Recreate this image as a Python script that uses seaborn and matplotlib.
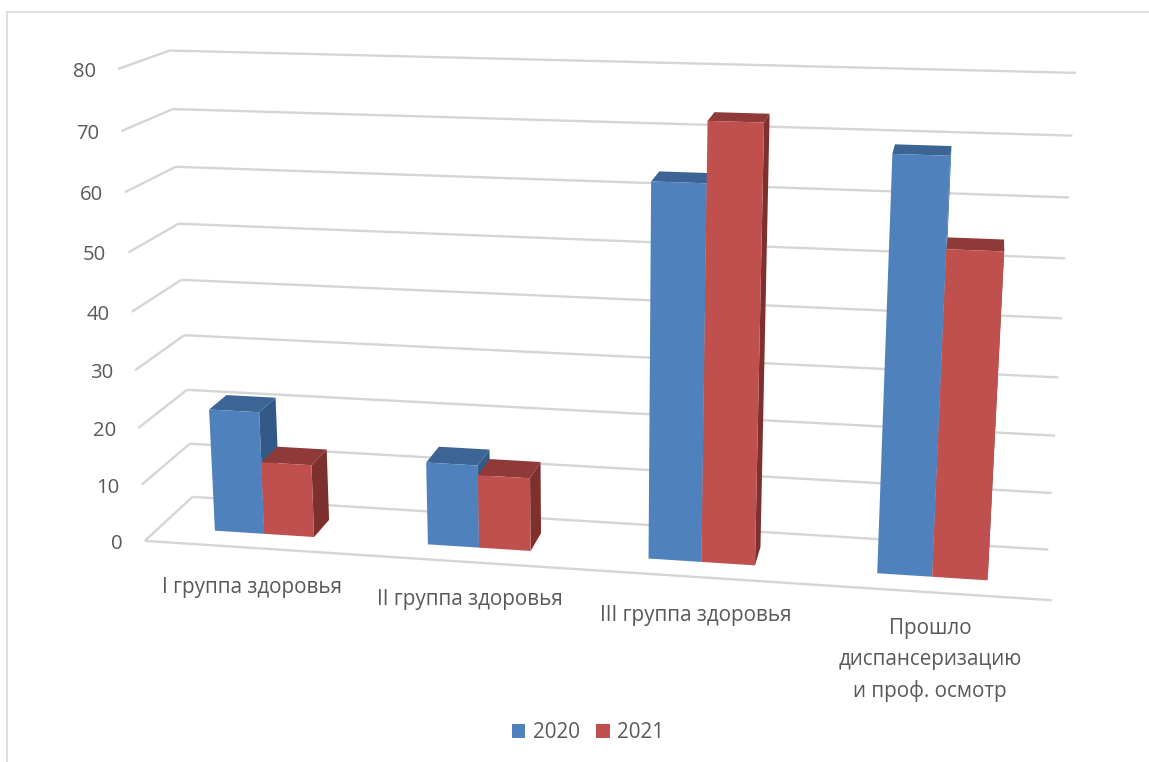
import numpy as np
import pandas as pd
import matplotlib
matplotlib.use("Agg")
import matplotlib.pyplot as plt
from matplotlib.transforms import Transform, Affine2D
from matplotlib.lines import Line2D
import seaborn as sns

categories = ["I группа здоровья", "II группа здоровья", "III группа здоровья",
              "Прошло\nдиспансеризацию\nи проф. осмотр"]
years = ["2020", "2021"]
values_2020 = [21.7, 14.5, 63.4, 69.0]
values_2021 = [12.85, 12.8, 73.3, 54.3]
y_ticks = [0, 10, 20, 30, 40, 50, 60, 70, 80]

W, H = 1149, 762
sns.set_theme(style="white")
plt.rcParams["font.family"] = ["Open Sans", "DejaVu Sans"]
TXT = "#595959"
FS = 14.9
GRID = "#d5d5d5"
FRONT = {"2020": "#4F81BD", "2021": "#C0504D"}
TOP = {"2020": "#3C6494", "2021": "#8F3A38"}
SIDE = {"2020": "#335A87", "2021": "#7E302E"}

# perspective camera: (category position, value, depth) -> picture pixels
XL, XR = -0.5, 3.5
calib = [((XL, 0, 0), (145, 541)), ((XL, 80, 0), (117, 70)), ((XL, 40, 0), (132, 311)),
         ((XL, 0, 1), (192, 497)), ((XL, 80, 1), (170, 50)), ((XL, 40, 1), (182, 280)),
         ((XR, 0, 0), (1052, 600)), ((XR, 0, 1), (1048, 550)), ((XR, 80, 1), (1076, 73)),
         ((XR, 40, 1), (1062, 318))]
A, b = [], []
for (x, y, z), (u, v) in calib:
    A.append([x, y, z, 1, 0, 0, 0, 0, -u * x, -u * y, -u * z]); b.append(u)
    A.append([0, 0, 0, 0, x, y, z, 1, -v * x, -v * y, -v * z]); b.append(v)
P = np.append(np.linalg.lstsq(np.array(A, float), np.array(b, float), rcond=None)[0], 1).reshape(3, 4)


def project(x, y, z):
    q = P @ np.vstack([x, y, z, np.ones_like(np.asarray(x, float))])
    return q[0] / q[2], q[1] / q[2]


class Plane(Transform):
    input_dims = output_dims = 2
    is_affine = False

    def __init__(self, z):
        super().__init__()
        self.z = z

    def transform_non_affine(self, xy):
        xy = np.asarray(xy, float)
        u, v = project(xy[:, 0], xy[:, 1], np.full(len(xy), self.z))
        return np.column_stack([u, v])


fig = plt.figure(figsize=(W / 100, H / 100), dpi=100, facecolor="white")
ax = fig.add_axes([0, 0, 1, 1])
pix = Affine2D().scale(1 / W, -1 / H).translate(0, 1) + fig.transFigure

df = pd.DataFrame({
    "cat": categories * 2,
    "year": [years[0]] * 4 + [years[1]] * 4,
    "val": values_2020 + values_2021,
})
sns.barplot(df, x="cat", y="val", hue="year", palette=FRONT, width=0.47, gap=0,
            saturation=1, linewidth=0, ax=ax, zorder=5)
ax.axis("off")

Z0, Z1 = 0.30, 0.68
for k, (yr, cont) in enumerate(zip(years, ax.containers)):
    for bar in cont:
        bar.set_transform(Plane(Z0) + pix)
        bar.set_clip_on(False)
        x0, x1, v = bar.get_x(), bar.get_x() + bar.get_width(), bar.get_height()
        tu, tv = project(np.array([x0, x1, x1, x0]), np.full(4, v), np.array([Z0, Z0, Z1, Z1]))
        su, sv = project(np.full(4, x1), np.array([0, v, v, 0]), np.array([Z0, Z0, Z1, Z1]))
        ax.fill(su, sv, color=SIDE[yr], lw=0, transform=pix, zorder=2 + k)
        ax.fill(tu, tv, color=TOP[yr], lw=0, transform=pix, zorder=2.5 + k)

gkw = dict(color=GRID, lw=1.7, solid_capstyle="butt", zorder=1, clip_on=False)
for t in y_ticks:
    ax.plot([XL, XR], [t, t], transform=Plane(1) + pix, **gkw)
    u, v = project(np.array([XL, XL]), np.array([t, t]), np.array([0.0, 1.0]))
    ax.plot(u, v, transform=pix, **gkw)
    ax.text(u[0] - 22, v[0] + 3, str(t), ha="right", va="center", color=TXT, fontsize=14.6,
            transform=pix)
ax.plot([XL, XR], [0, 0], transform=Plane(0) + pix, **gkw)

label_pos = [(252, 588), (470, 600), (696, 616), (930, 660)]
for c, (u, v) in zip(categories, label_pos):
    ax.text(u, v, c, ha="center", va="center", color=TXT, fontsize=FS, linespacing=1.59,
            transform=pix)

sns.move_legend(ax, "center", bbox_to_anchor=(588 / W, 1 - 733 / H), bbox_transform=fig.transFigure,
                ncol=2, frameon=False, title=None, fontsize=FS, labelcolor=TXT,
                handlelength=0.63, handleheight=0.63, handletextpad=0.34, columnspacing=0.82)

for xs, ys in (([7, 7], [H, 12]), ([7, W], [12, 12])):
    fig.add_artist(Line2D(xs, ys, color="#d9d9d9", lw=1.2, transform=pix))

fig.savefig("out.png", dpi=100, facecolor="white")
